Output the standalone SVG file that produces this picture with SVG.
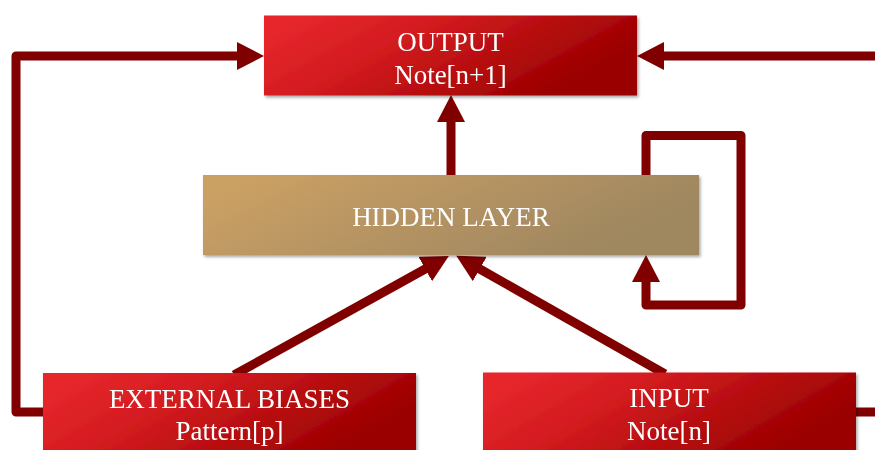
<svg xmlns="http://www.w3.org/2000/svg" width="875" height="450" viewBox="0 0 875 450">
  <defs>
    <linearGradient id="redFill" x1="0.1" y1="0" x2="1" y2="0.35">
      <stop offset="0" stop-color="#e6272c"/>
      <stop offset="0.35" stop-color="#d41c20"/>
      <stop offset="1" stop-color="#9b0000"/>
    </linearGradient>
    <linearGradient id="goldFill" x1="0.1" y1="0" x2="1" y2="0.3">
      <stop offset="0" stop-color="#cba064"/>
      <stop offset="1" stop-color="#9f8761"/>
    </linearGradient>
    <filter id="shadow" x="-5%" y="-10%" width="110%" height="125%">
      <feDropShadow dx="1.5" dy="2" stdDeviation="1.5" flood-color="#000" flood-opacity="0.35"/>
    </filter>
    <marker id="head" markerUnits="userSpaceOnUse" markerWidth="28" markerHeight="28" refX="2" refY="14" orient="auto">
      <path d="M0,0 L27,14 L0,28 Z" fill="#800000"/>
    </marker>
    <style>
      .wire { fill: none; stroke: #800000; stroke-width: 9; stroke-linejoin: round; }
      .lbl { font-family: "Liberation Serif", "Times New Roman", serif; font-size: 27px; fill: #ffffff; text-anchor: middle; }
    </style>
  </defs>

  <g id="connectors">
    <!-- external biases feed the output directly -->
    <path class="wire" d="M45,412 L16,412 L16,56 L239,56" marker-end="url(#head)"/>
    <!-- input feeds the output from the right side -->
    <path class="wire" d="M853,412 L885,412"/>
    <path class="wire" d="M885,56 L662,56" marker-end="url(#head)"/>
    <!-- hidden layer to output -->
    <path class="wire" d="M451,178 L451,120" marker-end="url(#head)"/>
    <!-- recurrent self-loop on the hidden layer -->
    <path class="wire" d="M646,178 L646,135.5 L741,135.5 L741,305 L646,305 L646,280" marker-end="url(#head)"/>
    <!-- external biases and input into the hidden layer -->
    <path class="wire" d="M234,375 L427,268" marker-end="url(#head)"/>
    <path class="wire" d="M665,374 L478,268" marker-end="url(#head)"/>
  </g>

  <g id="output" filter="url(#shadow)">
    <rect x="264" y="15.5" width="373" height="80" fill="url(#redFill)"/>
    <text class="lbl" x="450.5" y="51">OUTPUT</text>
    <text class="lbl" x="450.5" y="84">Note[n+1]</text>
  </g>

  <g id="hidden-layer" filter="url(#shadow)">
    <rect x="203" y="175" width="496" height="80" fill="url(#goldFill)"/>
    <text class="lbl" x="451" y="226">HIDDEN LAYER</text>
  </g>

  <g id="external-biases" filter="url(#shadow)">
    <rect x="43" y="373" width="373" height="85" fill="url(#redFill)"/>
    <text class="lbl" x="229.5" y="408">EXTERNAL BIASES</text>
    <text class="lbl" x="229.5" y="440">Pattern[p]</text>
  </g>

  <g id="input" filter="url(#shadow)">
    <rect x="483" y="372.5" width="373" height="85" fill="url(#redFill)"/>
    <text class="lbl" x="669" y="407">INPUT</text>
    <text class="lbl" x="669" y="440">Note[n]</text>
  </g>
</svg>
